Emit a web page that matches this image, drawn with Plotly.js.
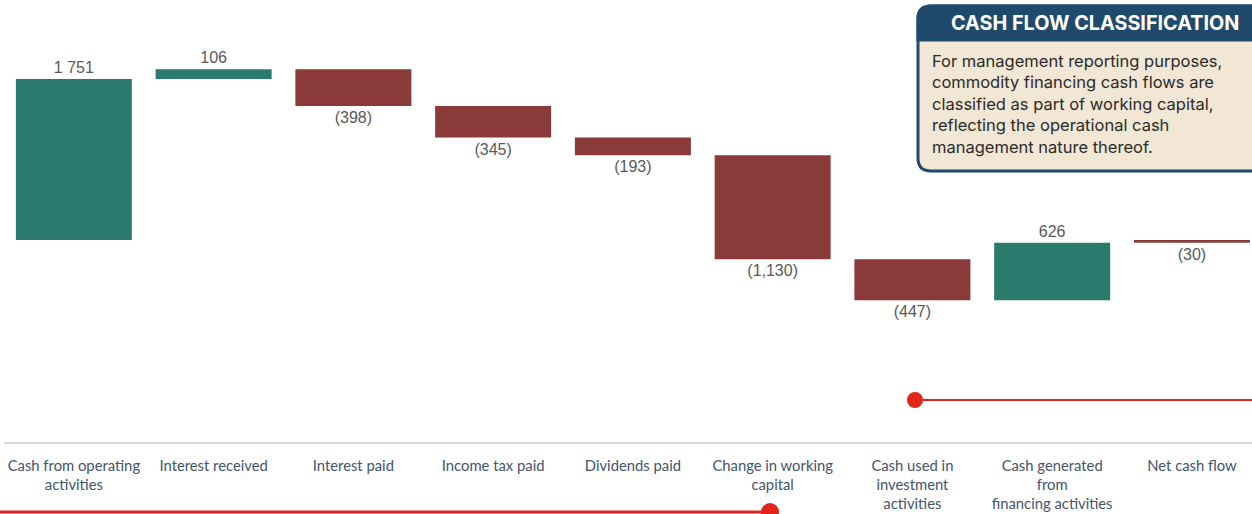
<!DOCTYPE html>
<html>
<head>
<meta charset="utf-8">
<script src="https://cdn.plot.ly/plotly-3.0.1.min.js"></script>
<style>html,body{margin:0;padding:0;background:#fff;}#chart{width:1252px;height:514px;}</style>
</head>
<body>
<div id="chart"></div>
<script>
// ---- data ----
const categories = [
  "Cash from operating<br>activities",
  "Interest received",
  "Interest paid",
  "Income tax paid",
  "Dividends paid",
  "Change in working<br>capital",
  "Cash used in<br>investment<br>activities",
  "Cash generated<br>from<br>financing activities",
  "Net cash flow"
];
const values = [1751, 106, -398, -345, -193, -1130, -447, 626, -30];
const measures = ["relative","relative","relative","relative","relative","relative","relative","relative","total"];
const valueLabels = ["1 751", "106", "(398)", "(345)", "(193)", "(1,130)", "(447)", "626", "(30)"];
const boxTitle = "CASH FLOW CLASSIFICATION";
const boxText = "For management reporting purposes,<br>commodity financing cash flows are<br>classified as part of working capital,<br>reflecting the operational cash<br>management nature thereof.";

// ---- layout helpers (pixel -> paper) ----
const W = 1252, H = 514, ML = 4, MR = 0, MT = 0, MB = 72;
const PW = W - ML - MR, PH = H - MT - MB;
const px = x => (x - ML) / PW;
const py = y => (H - MB - y) / PH;

function roundRectPath(x0, y0, x1, y1, r, roundBottom) {
  const P = (x, y) => px(x).toFixed(5) + "," + py(y).toFixed(5);
  let d = "M" + P(x0 + r, y0) + " L" + P(x1 - r, y0) + " Q" + P(x1, y0) + " " + P(x1, y0 + r);
  if (roundBottom) {
    d += " L" + P(x1, y1 - r) + " Q" + P(x1, y1) + " " + P(x1 - r, y1) +
         " L" + P(x0 + r, y1) + " Q" + P(x0, y1) + " " + P(x0, y1 - r);
  } else {
    d += " L" + P(x1, y1) + " L" + P(x0, y1);
  }
  d += " L" + P(x0, y0 + r) + " Q" + P(x0, y0) + " " + P(x0 + r, y0) + " Z";
  return d;
}

const red = "#8b3a3a", teal = "#2a7a6e", accent = "#e0261a", navy = "#1f4a6c";

const trace = {
  type: "waterfall",
  x: categories,
  y: values,
  measure: measures,
  text: valueLabels,
  texttemplate: "%{text}",
  textposition: "outside",
  cliponaxis: false,
  textfont: {family: "Liberation Sans, Arial, sans-serif", size: 16, color: "#595959"},
  increasing: {marker: {color: teal}},
  decreasing: {marker: {color: red}},
  totals: {marker: {color: red}},
  connector: {visible: false},
  hoverinfo: "skip"
};

const layout = {
  width: W, height: H,
  margin: {l: ML, r: MR, t: MT, b: MB, pad: 0},
  paper_bgcolor: "#ffffff",
  plot_bgcolor: "#ffffff",
  showlegend: false,
  waterfallgap: 0.17,
  xaxis: {
    type: "category",
    range: [-0.5, 8.43],
    showgrid: false, zeroline: false,
    showline: true, linecolor: "#d9d9d9", linewidth: 2,
    ticks: "", ticklabelstandoff: 9,
    tickfont: {family: "Lato, sans-serif", size: 14.8, color: "#44546a"},
    fixedrange: true
  },
  yaxis: {
    range: [-2198, 2611],
    showgrid: false, zeroline: false, showline: false,
    showticklabels: false, ticks: "",
    fixedrange: true
  },
  shapes: [
    {type: "path", xref: "paper", yref: "paper", path: roundRectPath(918, 6, 1268, 171, 13, true),
     fillcolor: "#f2e6d4", line: {color: navy, width: 3}, layer: "above"},
    {type: "path", xref: "paper", yref: "paper", path: roundRectPath(918, 6, 1268, 40, 13, false),
     fillcolor: navy, line: {color: navy, width: 3}, layer: "above"},
    {type: "line", xref: "paper", yref: "paper", x0: px(915), x1: px(1256), y0: py(400), y1: py(400),
     line: {color: accent, width: 2}},
    {type: "circle", xref: "paper", yref: "paper", x0: px(907), x1: px(923), y0: py(408), y1: py(392),
     fillcolor: accent, line: {color: accent, width: 0}},
    {type: "line", xref: "paper", yref: "paper", x0: px(-2), x1: px(770), y0: py(512), y1: py(512),
     line: {color: accent, width: 3}},
    {type: "circle", xref: "paper", yref: "paper", x0: px(761), x1: px(779), y0: py(521), y1: py(503),
     fillcolor: accent, line: {color: accent, width: 0}}
  ],
  annotations: [
    {xref: "paper", yref: "paper", x: px(949), y: py(23), xanchor: "left", yanchor: "middle",
     text: "<b>" + boxTitle + "</b>", showarrow: false,
     font: {family: "Inter, sans-serif", size: 19.8, color: "#ffffff"}},
    {xref: "paper", yref: "paper", x: px(930), y: py(49), xanchor: "left", yanchor: "top",
     text: boxText, showarrow: false, align: "left",
     font: {family: "Inter, sans-serif", size: 16.5, color: "#2b2b2b"}}
  ]
};

Plotly.newPlot("chart", [trace], layout, {staticPlot: true, displayModeBar: false});
</script>
</body>
</html>
